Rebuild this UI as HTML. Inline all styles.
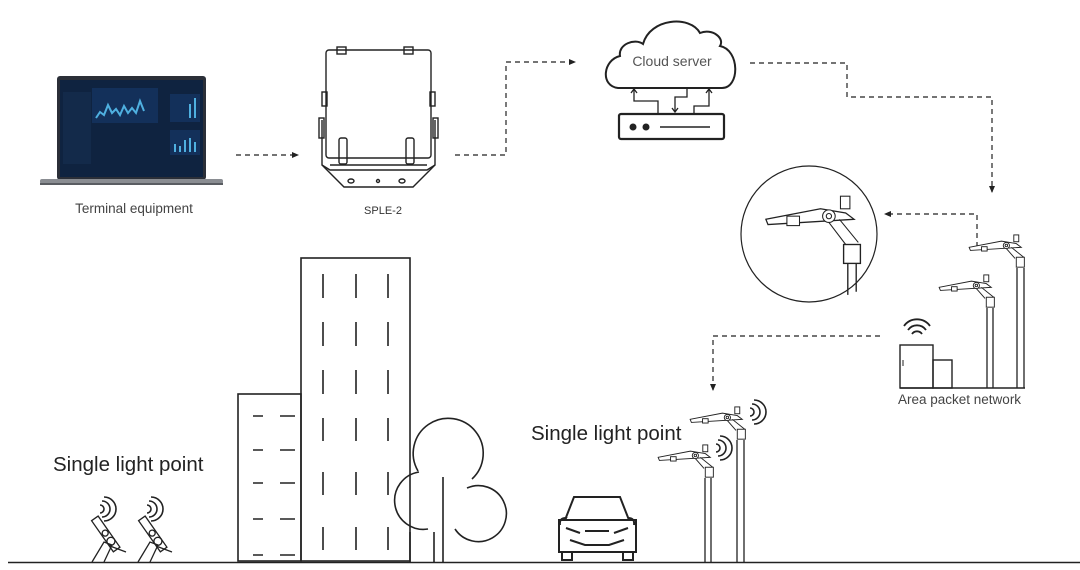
<!DOCTYPE html>
<html><head><meta charset="utf-8"><style>
html,body{margin:0;padding:0;background:#fff;}
svg{display:block;}
text{font-family:"Liberation Sans",sans-serif;}
</style></head><body>
<svg width="1080" height="570" viewBox="0 0 1080 570" xmlns="http://www.w3.org/2000/svg">
<defs>
<marker id="ah" markerWidth="8" markerHeight="8" refX="6" refY="4" orient="auto" markerUnits="userSpaceOnUse"><path d="M0,1 L7,4 L0,7 Z" fill="#222"/></marker>
<g id="lamp" fill="none" stroke="#222" stroke-width="1.5">
<path d="M-82,-14 L-30,-24 L-6,-20 L2,-14 L-80,-9 Z" fill="#fff"/>
<rect x="-62" y="-15" width="9" height="7" fill="#fff"/>
<circle cx="-22" cy="-17" r="5" fill="#fff"/><circle cx="-22" cy="-17" r="2"/>
<rect x="-10" y="-34" width="8" height="11" fill="#fff"/>
<path d="M-22,-12 L-8,4 M-14,-14 L6,2"/>
<rect x="-6" y="2" width="13" height="16" fill="#fff"/>
</g>
<g id="wifi" fill="none" stroke="#222" stroke-width="1.6">
<path d="M0,-4 a4,4 0 0 1 0,8 M2,-8 a8,8 0 0 1 0,16 M4,-12 a12,12 0 0 1 0,24"/>
</g>
</defs>

<!-- Laptop -->
<rect x="57" y="76" width="149" height="104" rx="3" fill="#2b2f38"/>
<rect x="60" y="80" width="143" height="97" fill="#0f2340"/>
<rect x="92" y="88" width="66" height="35" fill="#13305a"/>
<path d="M96,118 l4,-6 4,3 4,-10 4,8 4,-4 4,6 4,-9 4,7 4,-5 4,5 4,-12 4,10" stroke="#4fb0e0" stroke-width="2" fill="none"/>
<rect x="170" y="130" width="30" height="25" fill="#13305a"/>
<path d="M175,152 v-8 M180,152 v-6 M185,152 v-12 M190,152 v-14 M195,152 v-10" stroke="#4fb0e0" stroke-width="2"/>
<rect x="170" y="94" width="30" height="28" fill="#13305a"/>
<path d="M190,118 v-14 M195,118 v-20" stroke="#4fb0e0" stroke-width="2"/>
<rect x="63" y="92" width="28" height="72" fill="#132a4a"/>
<rect x="40" y="179" width="183" height="5" rx="2" fill="#8a8d92"/>
<rect x="40" y="183" width="183" height="2" fill="#5a5d62"/>
<text x="134" y="213" font-size="13.5" fill="#444" text-anchor="middle">Terminal equipment</text>

<path d="M236,155 H298" stroke="#222" stroke-width="1.2" stroke-dasharray="5,4" fill="none" marker-end="url(#ah)"/>

<!-- SPLE-2 -->
<g fill="none" stroke="#222" stroke-width="1.4">
<rect x="326" y="50" width="105" height="108" rx="3"/>
<path d="M322,120 V165 L330,170 H427 L435,165 V120"/>
<path d="M322,165 L344,187 H413 L435,165 M330,165 H427"/>
<rect x="319" y="118" width="5" height="20"/><rect x="433" y="118" width="5" height="20"/>
<rect x="322" y="92" width="5" height="14"/><rect x="430" y="92" width="5" height="14"/>
<rect x="337" y="47" width="9" height="7"/><rect x="404" y="47" width="9" height="7"/>
<rect x="339" y="138" width="8" height="26" rx="2"/><rect x="406" y="138" width="8" height="26" rx="2"/>
<ellipse cx="351" cy="181" rx="3" ry="2"/><circle cx="378" cy="181" r="1.5"/><ellipse cx="402" cy="181" rx="3" ry="2"/>
</g>
<text x="383" y="214" font-size="11" fill="#333" text-anchor="middle">SPLE-2</text>

<path d="M455,155 H506 V62 H575" stroke="#222" stroke-width="1.2" stroke-dasharray="5,4" fill="none" marker-end="url(#ah)"/>

<!-- Cloud -->
<path d="M618,88 C600,86 603,60 620,56 C618,44 635,38 643,44 C650,18 690,15 700,33 C712,28 725,38 720,46 C740,50 740,88 722,88 Z" fill="#fff" stroke="#222" stroke-width="2"/>
<text x="672" y="66" font-size="14" fill="#555" text-anchor="middle">Cloud server</text>
<g fill="none" stroke="#222" stroke-width="1.3">
<path d="M658,114 V101 H634 V89"/><path d="M631,93 L634,89 L637,93"/>
<path d="M687,89 V97 H675 V112"/><path d="M672,108 L675,112 L678,108"/>
<path d="M694,114 V106 H709 V89"/><path d="M706,93 L709,89 L712,93"/>
</g>
<rect x="619" y="114" width="105" height="25" rx="2" fill="#fff" stroke="#222" stroke-width="2.2"/>
<circle cx="633" cy="127" r="3.5" fill="#222"/><circle cx="646" cy="127" r="3.5" fill="#222"/>
<path d="M660,127 H710" stroke="#222" stroke-width="1.5"/>

<path d="M750,63 H847 V97 H992 V192" stroke="#222" stroke-width="1.2" stroke-dasharray="5,4" fill="none" marker-end="url(#ah)"/>
<path d="M977,247 V214 H885" stroke="#222" stroke-width="1.2" stroke-dasharray="5,4" fill="none" marker-end="url(#ah)"/>

<!-- Circle lamp -->
<circle cx="809" cy="234" r="68" fill="#fff" stroke="#222" stroke-width="1.2"/>
<g transform="translate(852,234) scale(1.05)">
<path d="M-82,-14 L-30,-24 L-6,-20 L2,-14 L-80,-9 Z" fill="#fff" stroke="#222" stroke-width="1.2"/>
<rect x="-62" y="-17" width="12" height="9" fill="#fff" stroke="#222"/>
<circle cx="-22" cy="-17" r="6" fill="#fff" stroke="#222"/><circle cx="-22" cy="-17" r="2.5" fill="none" stroke="#222"/>
<rect x="-11" y="-36" width="9" height="12" fill="#fff" stroke="#222"/>
<path d="M-22,-11 L-6,10 M-12,-14 L6,8" stroke="#222" fill="none"/>
<rect x="-8" y="10" width="16" height="18" fill="#fff" stroke="#222" stroke-width="1.3"/>
<path d="M-4,28 V58 M4,28 V55" stroke="#222" fill="none" stroke-width="1.3"/>
</g>

<!-- Right poles -->
<path d="M1017,268 V388 M1024,268 V388 M987,308 V388 M993,308 V388" stroke="#222" stroke-width="1.3"/>
<use href="#lamp" transform="translate(1020,256) scale(0.62)"/>
<use href="#lamp" transform="translate(990,296) scale(0.62)"/>

<!-- Area network -->
<path d="M900,388 H1025" stroke="#222" stroke-width="1.4"/>
<rect x="900" y="345" width="33" height="43" fill="none" stroke="#222" stroke-width="1.4"/>
<rect x="933" y="360" width="19" height="28" fill="none" stroke="#222" stroke-width="1.4"/>
<path d="M903,360 v6" stroke="#222"/>
<g fill="none" stroke="#222" stroke-width="1.8">
<path d="M912,334 a6,6 0 0 1 10,0"/><path d="M908,330 a11,11 0 0 1 18,0"/><path d="M904,326 a16,16 0 0 1 26,0"/>
</g>
<text x="898" y="404" font-size="13.5" fill="#444">Area packet network</text>

<path d="M880,336 H713 V390" stroke="#222" stroke-width="1.2" stroke-dasharray="5,4" fill="none" marker-end="url(#ah)"/>

<!-- Middle poles -->
<path d="M737,440 V563 M744,440 V563 M705,478 V563 M711,478 V563" stroke="#222" stroke-width="1.3"/>
<use href="#lamp" transform="translate(741,428) scale(0.62)"/>
<use href="#lamp" transform="translate(709,466) scale(0.62)"/>
<use href="#wifi" transform="translate(750,412)"/>
<use href="#wifi" transform="translate(716,448)"/>

<text x="531" y="440" font-size="20.5" fill="#222">Single light point</text>
<text x="53" y="471" font-size="20.5" fill="#222">Single light point</text>

<!-- Car -->
<g fill="none" stroke="#222" stroke-width="2">
<path d="M565,520 L574,497 H620 L629,520"/>
<path d="M560,525 Q559,518 566,518 L565,520 M634,525 Q635,518 628,518"/>
<path d="M559,520 H636 V552 H559 Z"/>
<path d="M562,552 V560 H572 V552 M623,552 V560 H633 V552"/>
<path d="M566,528 L580,533 M628,528 L614,533 M585,531 H609 M570,540 L585,545 H609 L624,540"/>
</g>

<!-- Buildings -->
<g fill="none" stroke="#222" stroke-width="1.6">
<rect x="238" y="394" width="63" height="167"/>
<rect x="301" y="258" width="109" height="303"/>
<path d="M253,416 H263 M280,416 H295 M253,450 H263 M280,450 H295 M253,483 H263 M280,483 H295 M253,519 H263 M280,519 H295 M253,555 H263 M280,555 H295"/>
<path d="M323,274 V298 M356,274 V298 M388,274 V298 M323,322 V346 M356,322 V346 M388,322 V346 M323,370 V394 M356,370 V394 M388,370 V394 M323,418 V441 M356,418 V441 M388,418 V441 M323,472 V495 M356,472 V495 M388,472 V495 M323,527 V550 M356,527 V550 M388,527 V550"/>
</g>
<!-- Tree -->
<g fill="none" stroke="#222" stroke-width="1.6">
<path d="M418,471 A35,35 0 1 1 472,479"/>
<path d="M428,529 A28,28 0 1 1 419,472"/>
<path d="M467,488 A28,28 0 1 1 455,529"/>
<path d="M443,477 V563 M434,532 V563 M410,532 V563"/>
</g>

<!-- Left single lights -->
<g fill="none" stroke="#222" stroke-width="1.3">
<g transform="translate(96,520) rotate(-35)">
<rect x="-4" y="-2" width="8" height="38" fill="#fff"/><circle cx="0" cy="16" r="3"/><circle cx="0" cy="26" r="4"/>
</g>
<path d="M92,562 L104,542 L112,545 L104,562 M110,546 L126,552"/>
<g transform="translate(143,520) rotate(-35)">
<rect x="-4" y="-2" width="8" height="38" fill="#fff"/><circle cx="0" cy="16" r="3"/><circle cx="0" cy="26" r="4"/>
</g>
<path d="M138,562 L150,542 L158,545 L150,562 M156,546 L172,552"/>
</g>
<use href="#wifi" transform="translate(100,509)"/>
<use href="#wifi" transform="translate(147,509)"/>

<path d="M8,562.5 H1080" stroke="#222" stroke-width="1.5"/>
</svg>
</body></html>
